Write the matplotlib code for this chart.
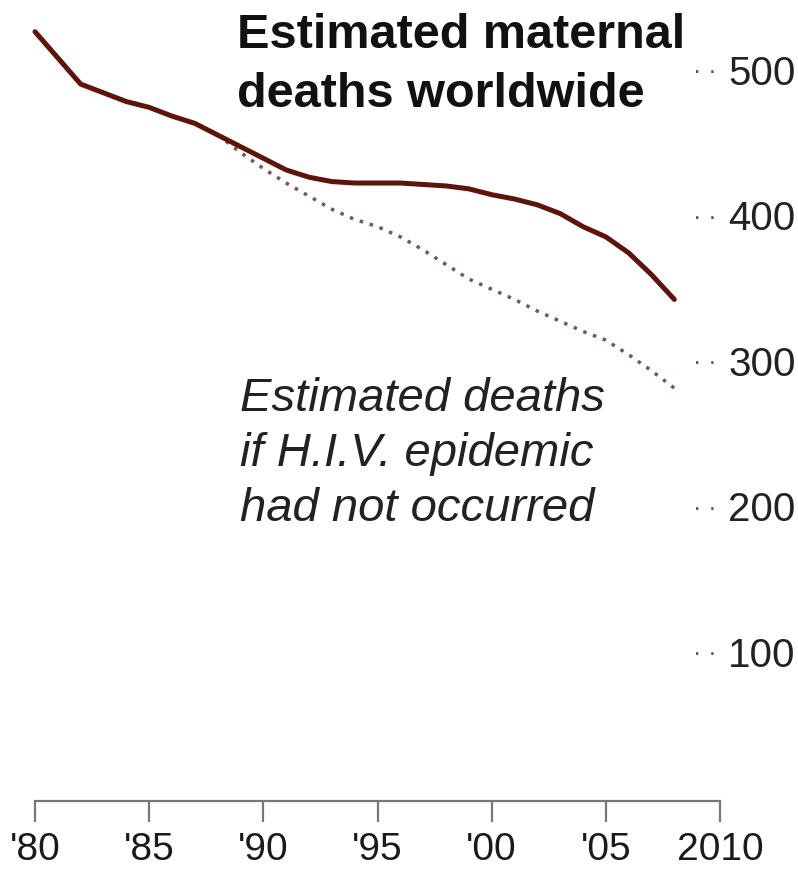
import matplotlib
matplotlib.use("Agg")
import matplotlib.pyplot as plt

plt.rcParams['font.family'] = ['Liberation Sans', 'DejaVu Sans']

# estimated maternal deaths worldwide, thousands
years = list(range(1980, 2009))
deaths = [526, 508, 490, 484, 478, 474, 468, 463, 455, 447, 439, 431, 426, 423, 422,
          422, 422, 421, 420, 418, 414, 411, 407, 401, 392, 385, 374, 359, 342]

# estimate without the H.I.V. epidemic
no_hiv_years = list(range(1988, 2009))
no_hiv_deaths = [455, 443, 432, 422, 413, 404, 397, 392, 385, 376, 366, 356, 349, 342,
                 334, 327, 320, 314, 304, 293, 281]

x_ticks = [1980, 1985, 1990, 1995, 2000, 2005, 2010]
x_labels = ["'80", "'85", "'90", "'95", "'00", "'05", "2010"]
y_ticks = [100, 200, 300, 400, 500]

W, H = 798, 869
fig = plt.figure(figsize=(W / 100, H / 100), dpi=100)
ax = fig.add_axes([35 / W, 68 / H, 685 / W, 801 / H])
ax.set_xlim(1980, 2010)
ax.set_ylim(-2.75, 547.8)

ax.plot(no_hiv_years, no_hiv_deaths, color='#6d5a5a', lw=2.5,
        linestyle=(0, (1, 2)), dash_capstyle='butt', zorder=2, clip_on=False)
ax.plot(years, deaths, color='#5e1409', lw=3.6, solid_capstyle='round',
        solid_joinstyle='round', zorder=3, clip_on=False)

for s in ['top', 'left', 'right']:
    ax.spines[s].set_visible(False)
ax.spines['bottom'].set_color('#777777')
ax.spines['bottom'].set_linewidth(1.6)
ax.set_yticks([])
ax.set_xticks(x_ticks)
ax.set_xticklabels(x_labels)
ax.tick_params(axis='x', direction='out', length=15, width=1.6, color='#777777',
               pad=7, labelsize=28, labelcolor='#1a1a1a')

# right-hand value labels with dotted leaders
for v in y_ticks:
    ax.text(2009.85, v, "· ·", ha='right', va='center_baseline', fontsize=18,
            color='#555555', clip_on=False)
    ax.text(2010.35, v, str(v), ha='left', va='center_baseline', fontsize=29,
            color='#222222', clip_on=False)

fig.text(237 / W, 1 - 13 / H, "Estimated maternal\ndeaths worldwide", fontsize=35,
         fontweight='bold', ha='left', va='top', linespacing=1.4, color='#111111')
fig.text(240 / W, 1 - 377 / H, "Estimated deaths\nif H.I.V. epidemic\nhad not occurred",
         fontsize=34, style='italic', ha='left', va='top', linespacing=1.33,
         color='#222222')

fig.savefig('out.png', dpi=100)
